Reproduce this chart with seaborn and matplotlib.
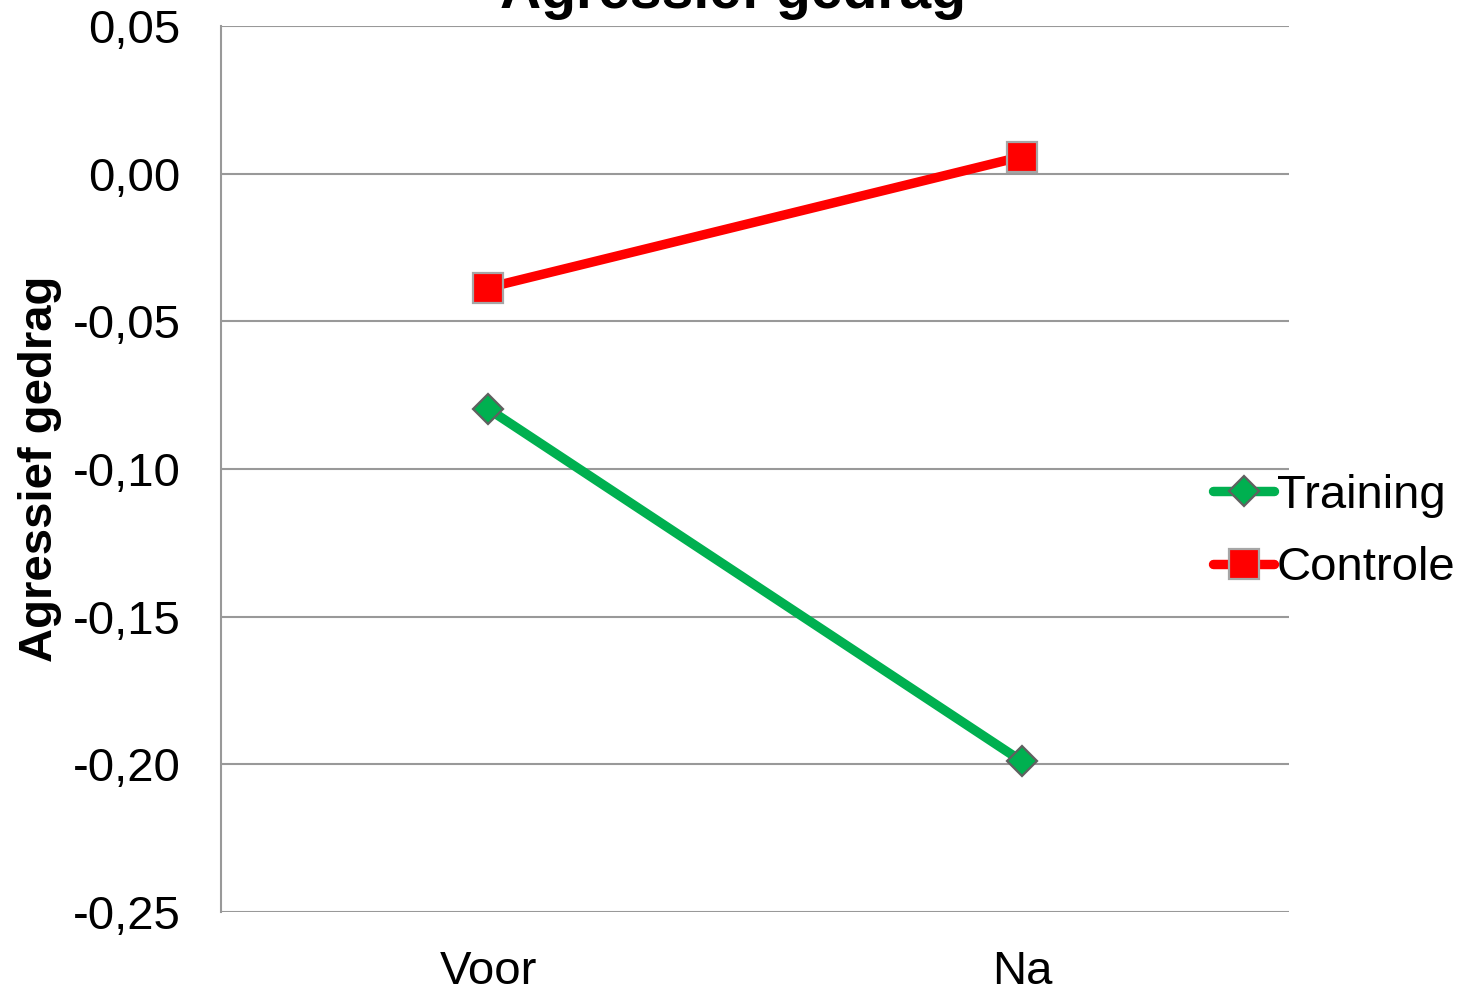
import matplotlib
matplotlib.use("Agg")
import matplotlib.pyplot as plt
import seaborn as sns
import pandas as pd
from matplotlib.ticker import FuncFormatter, MultipleLocator

# Data
moments = ["Voor", "Na"]
training = [-0.0796, -0.1990]
controle = [-0.0386, 0.0058]
title = "Agressief gedrag"
ylabel = "Agressief gedrag"

sns.set_theme(style="white")
plt.rcParams['font.family'] = ['Liberation Sans', 'DejaVu Sans']
plt.rcParams['text.color'] = 'black'
plt.rcParams['xtick.color'] = 'black'
plt.rcParams['ytick.color'] = 'black'
plt.rcParams['axes.labelcolor'] = 'black'

fig = plt.figure(figsize=(14.64, 9.93), dpi=100)
ax = fig.add_axes([221/1464, 1-912/993, (1289-221)/1464, (912-26)/993])

df_t = pd.DataFrame({"Moment": moments, "Waarde": training})
df_c = pd.DataFrame({"Moment": moments, "Waarde": controle})

sns.lineplot(data=df_t, x="Moment", y="Waarde", ax=ax, color="#00b050",
             linewidth=6.8, marker="D", markersize=15, markeredgecolor="#606060",
             markeredgewidth=1.6, label="Training", sort=False)
sns.lineplot(data=df_c, x="Moment", y="Waarde", ax=ax, color="#ff0000",
             linewidth=6.8, marker="s", markersize=21, markeredgecolor="#a6a6a6",
             markeredgewidth=1.6, label="Controle", sort=False)

ax.set_xlim(-0.5, 1.5)
ax.set_ylim(-0.25, 0.05)
ax.yaxis.set_major_locator(MultipleLocator(0.05))
ax.yaxis.set_major_formatter(FuncFormatter(lambda v, p: f"{v:.2f}".replace(".", ",").replace("-0,00", "0,00")))
ax.grid(axis="y", color="#999999", linewidth=1.5)
ax.grid(axis="x", visible=False)
ax.set_axisbelow(True)
for s in ["top", "right", "bottom"]:
    ax.spines[s].set_visible(False)
ax.spines["left"].set_color("#999999")
ax.spines["left"].set_linewidth(1.5)
ax.tick_params(axis="y", length=0, pad=29, labelsize=34)
ax.tick_params(axis="x", length=0, pad=27, labelsize=34)
ax.set_xlabel("")
ax.set_ylabel(ylabel, fontsize=34, fontweight="bold")
ax.yaxis.set_label_coords((62-221)/1068, 0.5)

fig.text(733/1464, 1-8/993, title, ha="center", va="baseline", fontsize=41, fontweight="bold")

ax.get_legend().remove()
h, l = ax.get_legend_handles_labels()
fig.legend(h, l, loc="center left", bbox_to_anchor=(1213/1464, 1-532/993), frameon=False,
           fontsize=34, handlelength=1.3, handletextpad=0.05, borderpad=0, borderaxespad=0,
           labelspacing=0.6)

fig.savefig("out.png", dpi=100)
